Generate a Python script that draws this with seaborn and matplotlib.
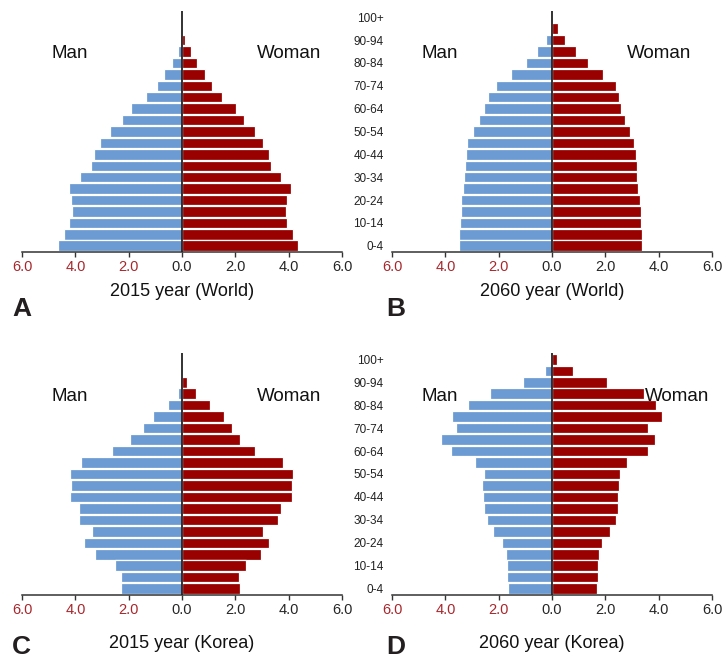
import numpy as np
import pandas as pd
import seaborn as sns
import matplotlib.pyplot as plt

# age groups, bottom to top
ages = ['0-4', '5-9', '10-14', '15-19', '20-24', '25-29', '30-34', '35-39',
        '40-44', '45-49', '50-54', '55-59', '60-64', '65-69', '70-74',
        '75-79', '80-84', '85-89', '90-94', '95-99', '100+']

# percent of population, same order as ages
world2015_man = [4.66, 4.44, 4.24, 4.13, 4.18, 4.24, 3.83, 3.41, 3.29, 3.06, 2.71,
                 2.26, 1.91, 1.35, 0.94, 0.66, 0.39, 0.16, 0.07, 0.0, 0.0]
world2015_woman = [4.36, 4.16, 3.95, 3.89, 3.94, 4.08, 3.71, 3.35, 3.25, 3.04, 2.73,
                   2.33, 2.01, 1.51, 1.13, 0.85, 0.56, 0.33, 0.12, 0.0, 0.0]
world2060_man = [3.50, 3.48, 3.46, 3.43, 3.40, 3.34, 3.29, 3.26, 3.24, 3.19, 2.98,
                 2.74, 2.54, 2.39, 2.11, 1.54, 0.98, 0.55, 0.21, 0.05, 0.0]
world2060_woman = [3.38, 3.36, 3.35, 3.33, 3.29, 3.24, 3.20, 3.17, 3.15, 3.09, 2.91,
                   2.73, 2.59, 2.53, 2.40, 1.90, 1.34, 0.90, 0.47, 0.22, 0.0]
korea2015_man = [2.29, 2.30, 2.50, 3.25, 3.69, 3.39, 3.86, 3.85, 4.21, 4.16, 4.20,
                 3.79, 2.61, 1.95, 1.48, 1.09, 0.54, 0.15, 0.06, 0.0, 0.0]
korea2015_woman = [2.18, 2.15, 2.39, 2.98, 3.25, 3.05, 3.61, 3.71, 4.11, 4.14, 4.16,
                   3.80, 2.75, 2.18, 1.86, 1.59, 1.05, 0.53, 0.18, 0.0, 0.0]
korea2060_man = [1.66, 1.70, 1.70, 1.71, 1.88, 2.20, 2.45, 2.55, 2.58, 2.63, 2.56,
                 2.88, 3.79, 4.16, 3.60, 3.75, 3.14, 2.33, 1.10, 0.28, 0.02]
korea2060_woman = [1.69, 1.73, 1.73, 1.76, 1.88, 2.16, 2.41, 2.48, 2.46, 2.51, 2.55,
                   2.80, 3.59, 3.86, 3.59, 4.14, 3.90, 3.44, 2.08, 0.78, 0.20]

panels = [
    ('A', '2015 year (World)', world2015_man, world2015_woman),
    ('B', '2060 year (World)', world2060_man, world2060_woman),
    ('C', '2015 year (Korea)', korea2015_man, korea2015_woman),
    ('D', '2060 year (Korea)', korea2060_man, korea2060_woman),
]

xticks = [-6, -4, -2, 0, 2, 4, 6]
xticklabels = ['6.0', '4.0', '2.0', '0.0', '2.0', '4.0', '6.0']
shown_ages = ['0-4', '10-14', '20-24', '30-34', '40-44', '50-54', '60-64',
              '70-74', '80-84', '90-94', '100+']

blue = '#6b9bd2'
red = '#990000'
tick_red = '#a8272c'

sns.set_style('white')
plt.rcParams['font.family'] = ['Liberation Sans', 'DejaVu Sans']

fig = plt.figure(figsize=(7.27, 6.65), dpi=100)
W, H = 727, 665
boxes = {
    'A': (22, 11, 252),
    'B': (392, 11, 252),
    'C': (22, 353, 595),
    'D': (392, 353, 595),
}
order = ages[::-1]

for letter, title, man, woman in panels:
    left, top, bottom = boxes[letter]
    ax = fig.add_axes([left / W, 1 - bottom / H, 320 / W, (bottom - top) / H])
    df = pd.DataFrame({
        'age': ages * 2,
        'value': [-v for v in man] + list(woman),
        'sex': ['Man'] * len(ages) + ['Woman'] * len(ages),
    })
    sns.barplot(data=df, x='value', y='age', hue='sex', order=order,
                hue_order=['Man', 'Woman'], palette=[blue, red], dodge=False,
                saturation=1, width=0.92, edgecolor='white', linewidth=0.9,
                legend=False, ax=ax)
    ax.set_xlim(-6, 6)
    ax.set_ylim(len(ages) - 0.45, -0.55)
    ax.axvline(0, color='#222222', lw=1.3, zorder=5)

    sns.despine(ax=ax, left=True)
    ax.spines['bottom'].set_color('#333333')
    ax.spines['bottom'].set_linewidth(1.1)
    ax.set_xticks(xticks)
    ax.set_xticklabels(xticklabels, fontsize=10.5)
    for lbl in ax.get_xticklabels()[:3]:
        lbl.set_color(tick_red)
    ax.tick_params(axis='x', length=3.5, width=1, color='#333333', pad=2.5,
                   direction='out', bottom=True)

    if letter in ('B', 'D'):
        ax.set_yticks([order.index(a) for a in shown_ages])
        ax.set_yticklabels(shown_ages, fontsize=8.5, color='#222222')
        ax.tick_params(axis='y', length=0, pad=6)
    else:
        ax.set_yticks([])
    ax.set_ylabel('')

    pad = 6 if letter in ('A', 'B') else 13
    ax.set_xlabel(title, fontsize=13, labelpad=pad, color='#111111')

    ypos = order.index('85-89') + 0.2
    ax.text(-4.2, ypos, 'Man', fontsize=13.5, ha='center', va='center', color='#111111')
    wx = 4.7 if letter == 'D' else 4.0
    ax.text(wx, ypos, 'Woman', fontsize=13.5, ha='center', va='center', color='#111111')

    lx = 12 if letter in ('A', 'C') else 386
    ly = 316 if letter in ('A', 'B') else 654
    fig.text(lx / W, 1 - ly / H, letter, fontsize=19, fontweight='bold',
             ha='left', va='baseline', color='#231f20')

fig.savefig('out.png', dpi=100)
